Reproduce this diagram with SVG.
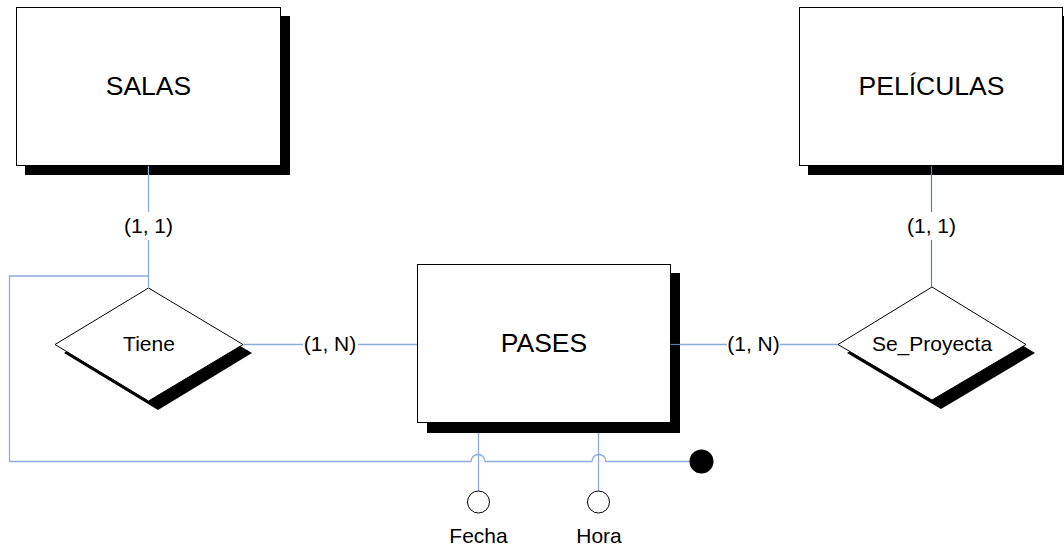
<svg xmlns="http://www.w3.org/2000/svg" width="1064" height="552" viewBox="0 0 1064 552">
<style>
.box{fill:#fff;stroke:#000;stroke-width:1}
.sh{fill:#000}
.t{font-family:"Liberation Sans",Arial,sans-serif;fill:#000;text-anchor:middle}
.big{font-size:26.5px}
.sm{font-size:21px}
.ln{fill:none;stroke:#8eaadb;stroke-width:1.3}
.lnd{fill:none;stroke:#5b7fb9;stroke-width:1.2}
.lbg{fill:#fff}
</style>
<rect width="1064" height="552" fill="#fff"/>
<g id="salas">
<rect class="sh" x="25" y="16" width="265" height="159"/>
<rect class="box" x="16.5" y="7.5" width="264" height="158"/>
<text class="t big" x="148.5" y="95">SALAS</text>
</g>
<g id="peliculas">
<rect class="sh" x="808" y="16" width="265" height="159"/>
<rect class="box" x="799.5" y="7.5" width="263" height="158"/>
<text class="t big" x="931.5" y="95">PELÍCULAS</text>
</g>
<g id="pases">
<rect class="sh" x="427" y="273" width="253" height="160"/>
<rect class="box" x="417.5" y="264.5" width="253" height="158"/>
<text class="t big" x="544" y="352">PASES</text>
</g>
<g id="tiene">
<polygon class="sh" points="157,297 252,353 158,410 64,353"/>
<polygon class="box" points="148.5,288 243,344.5 148.5,401 55,344.5"/>
<text class="t sm" x="149" y="351">Tiene</text>
</g>
<g id="se_proyecta">
<polygon class="sh" points="941,296 1035,353 941,409 847,353"/>
<polygon class="box" points="932,287 1026,344.5 932,400 838,344.5"/>
<text class="t sm" x="932" y="351">Se_Proyecta</text>
</g>
<g id="connectors">
<path class="ln" d="M148.5,166 V288"/>
<path class="ln" d="M148.5,276 H9.5 V461.5 H471 a7,7 0 0 1 14,0 H592 a7,7 0 0 1 14,0 H690"/>
<path class="ln" d="M243,344.5 H417"/>
<path class="lnd" d="M670.5,344.5 H680"/>
<path class="ln" d="M680,344.5 H838"/>
<path class="lnd" d="M931.5,166 V287"/>
<path class="ln" d="M478.5,433 V491"/>
<path class="ln" d="M598.5,433 V491"/>
<rect class="lbg" x="120" y="212" width="57" height="28"/>
<rect class="lbg" x="903" y="212" width="57" height="28"/>
<rect class="lbg" x="303" y="332" width="55" height="25"/>
<rect class="lbg" x="727" y="332" width="53" height="25"/>
<text class="t sm" x="148.5" y="233">(1, 1)</text>
<text class="t sm" x="931.5" y="233">(1, 1)</text>
<text class="t sm" x="330" y="351">(1, N)</text>
<text class="t sm" x="753.5" y="351">(1, N)</text>
</g>
<g id="fecha">
<circle class="box" cx="478.5" cy="502" r="11"/>
<text class="t sm" x="478.5" y="543">Fecha</text>
</g>
<g id="hora">
<circle class="box" cx="598.5" cy="502" r="11"/>
<text class="t sm" x="599" y="543">Hora</text>
</g>
<g id="identificador">
<circle cx="701.5" cy="461.5" r="12" fill="#000"/>
</g>
</svg>
